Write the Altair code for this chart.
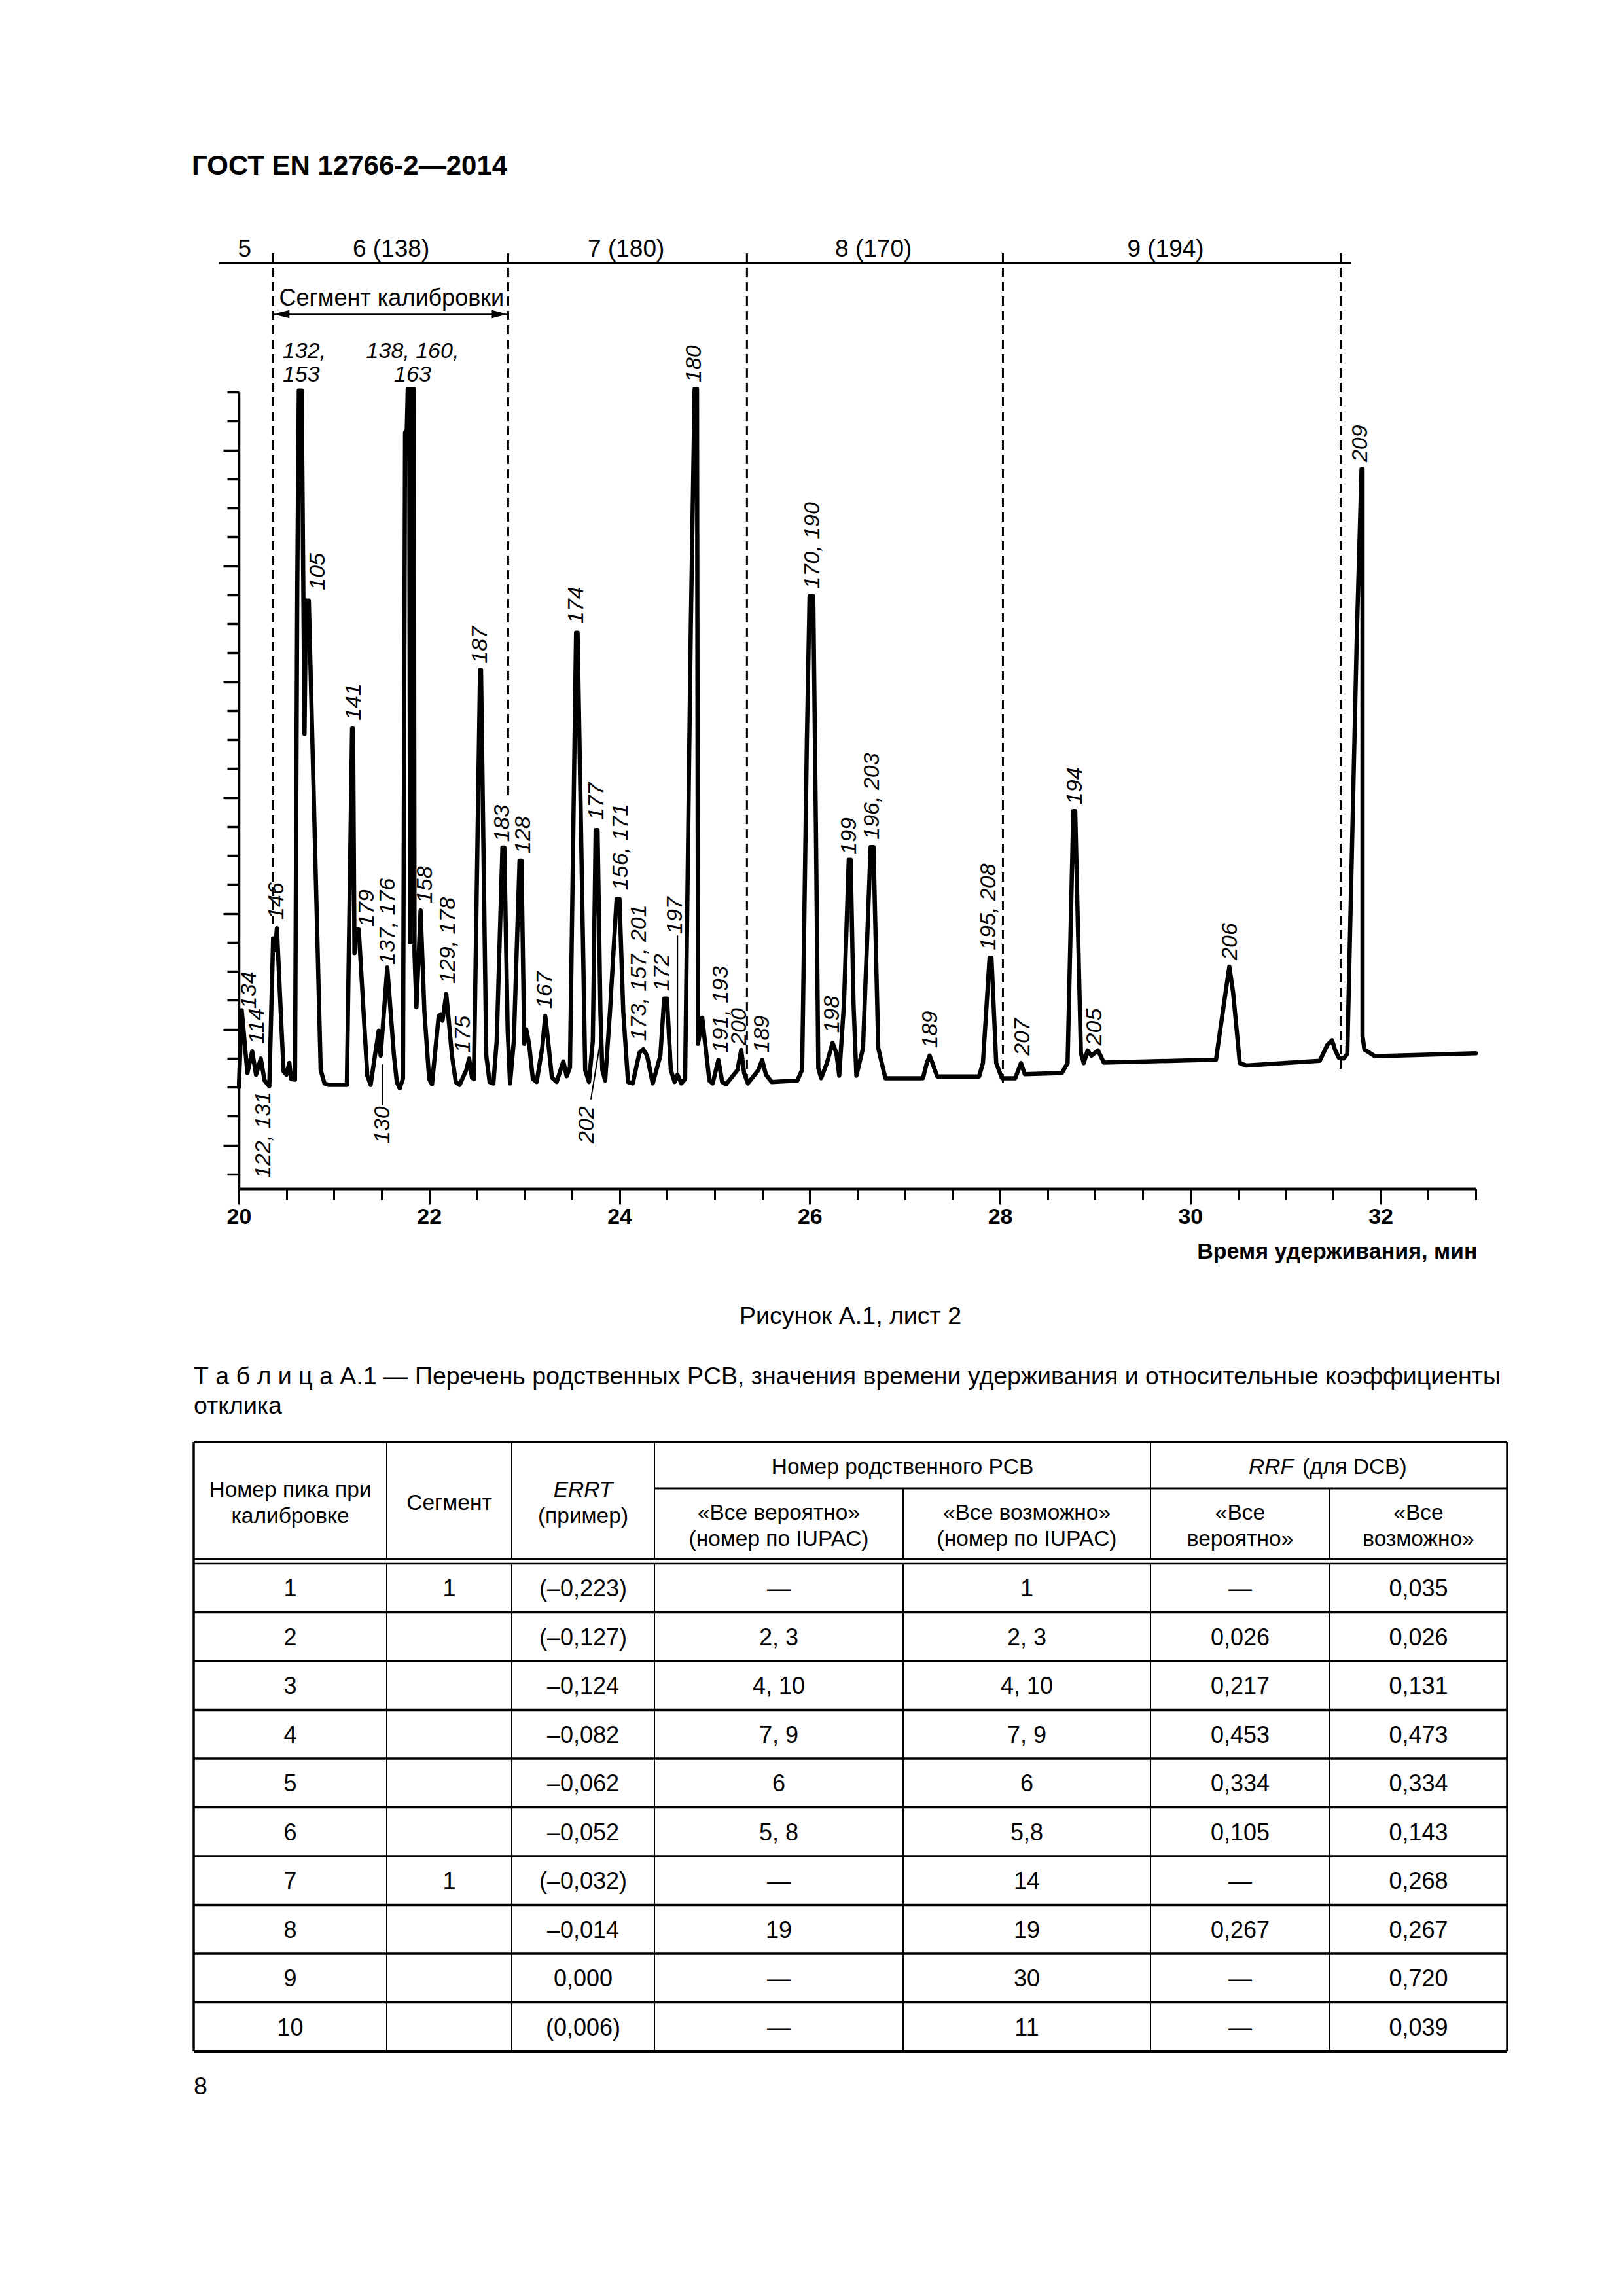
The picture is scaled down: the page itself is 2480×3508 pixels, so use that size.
import altair as alt
import pandas as pd

# ------------------------------------------------------------------ data read from the reference
# chromatogram trace vertices: retention time (min) and detector response (in y-axis tick units)
trace_t = [20.00, 20.03, 20.09, 20.14, 20.18, 20.23, 20.27, 20.32, 20.36, 20.38, 20.40, 20.44, 20.47,
           20.50, 20.53, 20.55, 20.59, 20.614, 20.63, 20.66, 20.69, 20.705, 20.735, 20.86, 20.90, 20.94,
           21.135, 21.19, 21.20, 21.215, 21.23, 21.26, 21.35, 21.385, 21.43, 21.47, 21.49, 21.56, 21.63,
           21.66, 21.69, 21.725, 21.747, 21.765, 21.775, 21.79, 21.80, 21.812, 21.838, 21.846, 21.866,
           21.91, 21.95, 22.00, 22.03, 22.10, 22.12, 22.14, 22.18, 22.24, 22.28, 22.32, 22.39, 22.42,
           22.45, 22.47, 22.535, 22.545, 22.60, 22.635, 22.675, 22.71, 22.77, 22.79, 22.825, 22.85,
           22.89, 22.95, 22.97, 23.00, 23.02, 23.05, 23.09, 23.13, 23.19, 23.22, 23.25, 23.29, 23.34,
           23.41, 23.445, 23.48, 23.544, 23.56, 23.64, 23.68, 23.72, 23.75, 23.77, 23.80, 23.82, 23.85,
           23.90, 23.97, 24.00, 24.04, 24.09, 24.14, 24.21, 24.25, 24.29, 24.35, 24.43, 24.47, 24.50,
           24.54, 24.58, 24.61, 24.65, 24.69, 24.75, 24.79, 24.815, 24.826, 24.87, 24.945, 24.98, 25.04,
           25.08, 25.12, 25.24, 25.28, 25.31, 25.35, 25.46, 25.50, 25.54, 25.60, 25.87, 25.92, 25.97,
           25.998, 26.037, 26.065, 26.09, 26.12, 26.18, 26.24, 26.28, 26.31, 26.36, 26.41, 26.43, 26.46,
           26.49, 26.56, 26.64, 26.67, 26.72, 26.795, 27.19, 27.23, 27.26, 27.29, 27.34, 27.78, 27.82,
           27.89, 27.91, 27.96, 28.02, 28.16, 28.22, 28.26, 28.65, 28.71, 28.77, 28.79, 28.85, 28.88,
           28.92, 28.96, 29.03, 29.09, 30.27, 30.37, 30.41, 30.45, 30.52, 30.585, 31.36, 31.44, 31.49,
           31.52, 31.56, 31.61, 31.65, 31.75, 31.80, 31.81, 31.81, 31.83, 31.94, 33.00]
trace_r = [3.00, 5.66, 3.49, 4.24, 3.43, 3.99, 3.23, 3.03, 8.14, 7.73, 8.49, 5.61, 3.54,
           3.43, 3.84, 3.28, 3.26, 20.4, 27.05, 27.05, 15.2, 19.8, 19.8, 3.59, 3.13, 3.08,
           3.08, 15.38, 15.38, 7.63, 8.44, 8.44, 3.40, 3.08, 4.09, 4.95, 4.09, 7.13, 4.09,
           3.18, 2.96, 3.30, 25.6, 25.7, 27.1, 27.1, 8.0, 27.1, 27.1, 7.6, 5.76,
           9.10, 5.61, 3.28, 3.10, 5.46, 5.51, 5.30, 6.22, 4.09, 3.18, 3.08, 3.59, 3.99,
           3.33, 3.28, 17.4, 17.4, 4.09, 3.18, 3.13, 4.60, 11.27, 11.27, 5.00, 3.13,
           4.60, 10.82, 10.82, 4.50, 5.00, 4.50, 3.28, 3.18, 4.40, 5.46, 4.60, 3.33, 3.18,
           3.89, 3.38, 3.69, 18.69, 18.69, 3.59, 3.18, 4.60, 11.88, 11.88, 5.61, 3.59, 3.23,
           5.60, 9.50, 9.50, 5.61, 3.18, 3.13, 4.19, 4.31, 4.09, 3.13, 4.09, 6.06, 6.06,
           3.59, 3.18, 3.43, 3.13, 3.28, 18.9, 27.1, 27.1, 4.50, 5.40, 3.23, 3.13, 3.94,
           3.18, 3.10, 3.59, 4.29, 3.49, 3.13, 3.59, 3.94, 3.43, 3.18, 3.23, 3.60, 15.0,
           19.95, 19.95, 11.98, 3.66, 3.31, 3.83, 4.53, 4.18, 3.40, 5.90, 10.85, 10.85, 5.90,
           3.40, 4.35, 11.29, 11.29, 4.35, 3.31, 3.31, 3.83, 4.09, 3.83, 3.37, 3.37, 3.83,
           7.47, 7.47, 3.83, 3.31, 3.31, 3.83, 3.45, 3.49, 3.83, 12.53, 12.53, 4.18, 3.83,
           4.27, 4.09, 4.27, 3.85, 3.95, 6.26, 7.16, 6.26, 3.83, 3.75, 3.91, 4.46, 4.62,
           4.30, 4.02, 3.99, 4.15, 18.6, 24.34, 24.34, 4.78, 4.30, 4.07, 4.17]

# rotated peak labels: text, retention time, response where the text starts
peak_lbl = ["134", "114", "122, 131", "146", "105", "141", "179", "137, 176", "130", "158",
            "129, 178", "175", "187", "183", "128", "167", "174", "202", "177", "156, 171",
            "173, 157, 201", "172", "197", "180", "191, 193", "200", "189", "170, 190", "198",
            "199", "196, 203", "189", "195, 208", "207", "194", "205", "206", "209"]
peak_lbl_t = [20.11, 20.19, 20.26, 20.40, 20.83, 21.21, 21.35, 21.57, 21.51, 21.96,
              22.20, 22.36, 22.54, 22.77, 22.99, 23.22, 23.55, 23.66, 23.76, 24.02,
              24.21, 24.45, 24.59, 24.79, 25.07, 25.26, 25.50, 26.03, 26.24,
              26.42, 26.66, 27.27, 27.88, 28.24, 28.79, 29.00, 30.42, 31.79]
peak_lbl_r = [5.71, 4.50, -0.14, 8.79, 20.16, 15.66, 8.54, 7.23, 1.06, 9.35,
              6.57, 4.19, 17.63, 11.47, 11.07, 5.71, 19.00, 1.06, 12.23, 9.80,
              4.60, 6.32, 8.29, 27.34, 4.19, 4.45, 4.19, 20.21, 4.87,
              11.03, 11.55, 4.35, 7.73, 4.09, 12.76, 4.44, 7.39, 24.58]

# leader lines (t1, r1, t2, r2) for labels 130, 202, 197
leader_t1 = [21.51, 23.70, 24.61]
leader_r1 = [2.37, 2.58, 8.24]
leader_t2 = [21.51, 23.80, 24.61]
leader_r2 = [3.79, 4.60, 3.43]

# segments of the run
segment_edges = [20.36, 22.83, 25.34, 28.03, 31.58]
segment_edge_low = [8.65, 13.0, 3.1, 3.0, 3.5]
segment_labels = ["5", "6 (138)", "7 (180)", "8 (170)", "9 (194)"]
segment_label_t = [20.06, 21.60, 24.07, 26.67, 29.74]
segment_bar_t = [19.79, 31.69]

# axis ticks
x_major = [20, 22, 24, 26, 28, 30, 32]
x_minor = [20.5, 21, 21.5, 22.5, 23, 23.5, 24.5, 25, 25.5, 26.5, 27, 27.5, 28.5, 29, 29.5,
           30.5, 31, 31.5, 32.5, 33]
y_major = [1, 5, 9, 13, 17, 21, 25]
y_minor = [0, 2, 3, 4, 6, 7, 8, 10, 11, 12, 14, 15, 16, 18, 19, 20, 22, 23, 24, 26, 27]

# table A.1
tbl_peak = ["1", "2", "3", "4", "5", "6", "7", "8", "9", "10"]
tbl_segment = ["1", "", "", "", "", "", "1", "", "", ""]
tbl_errt = ["(–0,223)", "(–0,127)", "–0,124", "–0,082", "–0,062", "–0,052", "(–0,032)", "–0,014",
            "0,000", "(0,006)"]
tbl_likely = ["—", "2, 3", "4, 10", "7, 9", "6", "5, 8", "—", "19", "—", "—"]
tbl_possible = ["1", "2, 3", "4, 10", "7, 9", "6", "5,8", "14", "19", "30", "11"]
tbl_rrf_likely = ["—", "0,026", "0,217", "0,453", "0,334", "0,105", "—", "0,267", "—", "—"]
tbl_rrf_possible = ["0,035", "0,026", "0,131", "0,473", "0,334", "0,143", "0,268", "0,267",
                    "0,720", "0,039"]

# ------------------------------------------------------------------ layout (page pixels)
FONT = "Liberation Sans"
PX0, PX1, PY0, PY1 = 365, 2255, 599, 1816
W, H = PX1 - PX0, PY1 - PY0
T0, T1, R0, R1 = 20, 33, -0.5, 27
LBL = 34


def r_at(page_y):
    return R1 - (page_y - PY0) * (R1 - R0) / H


def xs():
    return alt.Scale(domain=[T0, T1], nice=False, zero=False)


def ys():
    return alt.Scale(domain=[R0, R1], nice=False, zero=False)


def pxs():
    return alt.Scale(domain=[PX0, PX1], nice=False, zero=False)


def pys():
    return alt.Scale(domain=[PY1, PY0], nice=False, zero=False)


x_axis_major = alt.Axis(orient="bottom", values=x_major, tickSize=24, tickWidth=3,
                        tickColor="black", domainWidth=4, domainColor="black", grid=False,
                        labelFont=FONT, labelFontSize=34, labelFontWeight="bold",
                        labelColor="black", labelPadding=2, labelOverlap=False, labelFlush=False,
                        format="d",
                        title="Время удерживания, мин", titleFont=FONT, titleFontSize=34,
                        titleFontWeight="bold", titleColor="black", titleAnchor="end",
                        titleAlign="right", titleX=W + 2, titleY=106, titleBaseline="alphabetic")
x_axis_minor = alt.Axis(orient="bottom", values=x_minor, tickSize=17, tickWidth=3,
                        tickColor="black", domain=False, labels=False, grid=False, title="")
y_axis_major = alt.Axis(orient="left", values=y_major, tickSize=24, tickWidth=3.5,
                        tickColor="black", domainWidth=3.5, domainColor="black", labels=False,
                        grid=False, title="")
y_axis_minor = alt.Axis(orient="left", values=y_minor, tickSize=18, tickWidth=3.5,
                        tickColor="black", domain=False, labels=False, grid=False, title="")


def cx(field, axis=None):
    return alt.X(field, scale=xs(), axis=axis)


def cy(field, axis=None):
    return alt.Y(field, scale=ys(), axis=axis)


# ------------------------------------------------------------------ chromatogram layers
trace_df = pd.DataFrame({"t": trace_t, "r": trace_r, "i": list(range(len(trace_t)))})
trace = alt.Chart(trace_df).mark_line(color="black", strokeWidth=6.5, strokeJoin="round",
                                      strokeCap="round").encode(
    x=cx("t:Q", x_axis_major), y=cy("r:Q", y_axis_major), order="i:Q")

seg_df = pd.DataFrame({"t": segment_edges, "top": [r_at(387)] * len(segment_edges),
                       "low": segment_edge_low})
seg_rules = alt.Chart(seg_df).mark_rule(color="black", strokeWidth=3, strokeDash=[14, 8]).encode(
    x=cx("t:Q", x_axis_minor), y=cy("top:Q", y_axis_minor), y2="low:Q")

bar_df = pd.DataFrame({"t1": [segment_bar_t[0]], "t2": [segment_bar_t[1]], "r": [r_at(402)]})
seg_bar = alt.Chart(bar_df).mark_rule(color="black", strokeWidth=4).encode(
    x=cx("t1:Q"), x2="t2:Q", y=cy("r:Q"))

segl_df = pd.DataFrame({"t": segment_label_t, "r": [r_at(392)] * 5, "txt": segment_labels})
seg_text = alt.Chart(segl_df).mark_text(font=FONT, fontSize=37, align="center",
                                        baseline="alphabetic", color="black").encode(
    x=cx("t:Q"), y=cy("r:Q"), text="txt:N")

arrow_df = pd.DataFrame({"t1": [segment_edges[0]], "t2": [segment_edges[1]], "r": [r_at(480)]})
arrow_line = alt.Chart(arrow_df).mark_rule(color="black", strokeWidth=3.5).encode(
    x=cx("t1:Q"), x2="t2:Q", y=cy("r:Q"))
head_l = alt.Chart(arrow_df).mark_point(shape="M0,0L2,-0.5L2,0.5Z", size=625, filled=True,
                                        opacity=1, color="black").encode(
    x=cx("t1:Q"), y=cy("r:Q"))
head_r = alt.Chart(arrow_df).mark_point(shape="M0,0L-2,-0.5L-2,0.5Z", size=625, filled=True,
                                        opacity=1, color="black").encode(
    x=cx("t2:Q"), y=cy("r:Q"))
calib_df = pd.DataFrame({"t": [21.605], "r": [r_at(467)], "txt": ["Сегмент калибровки"]})
calib_text = alt.Chart(calib_df).mark_text(font=FONT, fontSize=36, align="center",
                                           baseline="alphabetic", color="black").encode(
    x=cx("t:Q"), y=cy("r:Q"), text="txt:N")

pl_df = pd.DataFrame({"t": peak_lbl_t, "r": peak_lbl_r, "txt": peak_lbl})
peak_text = alt.Chart(pl_df).mark_text(font=FONT, fontSize=LBL, fontStyle="italic", angle=270,
                                       align="left", baseline="middle", color="black").encode(
    x=cx("t:Q"), y=cy("r:Q"), text="txt:N")

top_left_df = pd.DataFrame({"t": [20.46, 20.46], "r": [r_at(547), r_at(583)],
                            "txt": ["132,", "153"]})
top_left = alt.Chart(top_left_df).mark_text(font=FONT, fontSize=LBL, fontStyle="italic",
                                            align="left", baseline="alphabetic",
                                            color="black").encode(
    x=cx("t:Q"), y=cy("r:Q"), text="txt:N")
top_mid_df = pd.DataFrame({"t": [21.826, 21.826], "r": [r_at(547), r_at(583)],
                           "txt": ["138, 160,", "163"]})
top_mid = alt.Chart(top_mid_df).mark_text(font=FONT, fontSize=LBL, fontStyle="italic",
                                          align="center", baseline="alphabetic",
                                          color="black").encode(
    x=cx("t:Q"), y=cy("r:Q"), text="txt:N")

lead_df = pd.DataFrame({"t1": leader_t1, "r1": leader_r1, "t2": leader_t2, "r2": leader_r2})
leaders = alt.Chart(lead_df).mark_rule(color="black", strokeWidth=2).encode(
    x=cx("t1:Q"), x2="t2:Q", y=cy("r1:Q"), y2="r2:Q")

# ------------------------------------------------------------------ page texts and table
col_edges = [296, 591, 782, 1000, 1380, 1758, 2032, 2303]
col_mid = [(col_edges[k] + col_edges[k + 1]) / 2 for k in range(7)]
TBL_TOP, TBL_SUB, DBL1, DBL2, ROW_H = 2203, 2274, 2382, 2389, 74.5


def ptext(rows, size, weight="normal", style="normal", align="center"):
    df = pd.DataFrame(rows, columns=["txt", "px", "py"])
    return alt.Chart(df).mark_text(font=FONT, fontSize=size, fontWeight=weight, fontStyle=style,
                                   align=align, baseline="alphabetic", color="black").encode(
        x=alt.X("px:Q", scale=pxs(), axis=None), y=alt.Y("py:Q", scale=pys(), axis=None),
        text="txt:N")


header = ptext([("ГОСТ EN 12766-2—2014", 293, 267)], 42, weight="bold", align="left")
caption = ptext([("Рисунок А.1, лист 2", (col_edges[0] + col_edges[-1]) / 2, 2023)], 37.5)
titles = ptext([("Т а б л и ц а  А.1 — Перечень родственных PCB, значения времени удерживания "
                 "и относительные коэффициенты", 296, 2115),
                ("отклика", 296, 2160), ("8", 296, 3200)], 37.5, align="left")

head_rows = [("Номер пика при", col_mid[0], 2287), ("калибровке", col_mid[0], 2327),
             ("Сегмент", col_mid[1], 2307), ("(пример)", col_mid[2], 2327),
             ("Номер родственного PCB", (col_edges[3] + col_edges[5]) / 2, 2252),
             ("«Все вероятно»", col_mid[3], 2322), ("(номер по IUPAC)", col_mid[3], 2362),
             ("«Все возможно»", col_mid[4], 2322), ("(номер по IUPAC)", col_mid[4], 2362),
             ("«Все", col_mid[5], 2322), ("вероятно»", col_mid[5], 2362),
             ("«Все", col_mid[6], 2322), ("возможно»", col_mid[6], 2362)]
head_cells = ptext(head_rows, 33.5)
body_rows = []
cols = [tbl_peak, tbl_segment, tbl_errt, tbl_likely, tbl_possible, tbl_rrf_likely,
        tbl_rrf_possible]
for ci, col in enumerate(cols):
    for ri, v in enumerate(col):
        if v:
            body_rows.append((v, col_mid[ci], DBL2 + ROW_H * (ri + 0.5) + 13))
body_cells = ptext(body_rows, 36)
errt = ptext([("ERRT", col_mid[2], 2287)], 33.5, style="italic")
rrf_i = ptext([("RRF", 1908, 2252)], 33.5, style="italic", align="left")
rrf_r = ptext([("(для DCB)", 1990, 2252)], 33.5, align="left")

rules = []
L, R = col_edges[0], col_edges[-1]
bottom = DBL2 + ROW_H * 10
rules.append((L, R, TBL_TOP, TBL_TOP, 3.5))
rules.append((col_edges[3], R, TBL_SUB, TBL_SUB, 3.0))
rules.append((L, R, DBL1, DBL1, 2.5))
rules.append((L, R, DBL2, DBL2, 2.5))
for k in range(1, 10):
    yk = DBL2 + ROW_H * k
    rules.append((L, R, yk, yk, 3.5))
rules.append((L, R, bottom, bottom, 4.0))
rules.append((L, L, TBL_TOP, bottom, 3.5))
rules.append((R, R, TBL_TOP, bottom, 3.5))
for xe in [col_edges[1], col_edges[2], col_edges[3], col_edges[5]]:
    rules.append((xe, xe, TBL_TOP, DBL1, 2.0))
    rules.append((xe, xe, DBL2, bottom, 2.0))
for xe in [col_edges[4], col_edges[6]]:
    rules.append((xe, xe, TBL_SUB, DBL1, 2.0))
    rules.append((xe, xe, DBL2, bottom, 2.0))
rules_df = pd.DataFrame(rules, columns=["x1", "x2", "y1", "y2", "w"])
table_rules = alt.Chart(rules_df).mark_rule(color="black").encode(
    x=alt.X("x1:Q", scale=pxs(), axis=None), x2="x2:Q",
    y=alt.Y("y1:Q", scale=pys(), axis=None), y2="y2:Q",
    strokeWidth=alt.StrokeWidth("w:Q", scale=None))

chart = alt.layer(
    seg_rules, seg_bar, seg_text, arrow_line, head_l, head_r, calib_text, leaders, trace,
    peak_text, top_left, top_mid,
    table_rules, header, caption, titles, head_cells, body_cells, errt, rrf_i, rrf_r
).resolve_scale(x="independent", y="independent").properties(
    width=W, height=H,
    autosize=alt.AutoSizeParams(type="none"),
    padding={"left": PX0 - 8, "top": PY0 - 8, "right": 2472 - PX1, "bottom": 3500 - PY1},
    background="white",
).configure_view(stroke=None)

chart.save("out.html", embed_options={"renderer": "svg", "actions": False})
